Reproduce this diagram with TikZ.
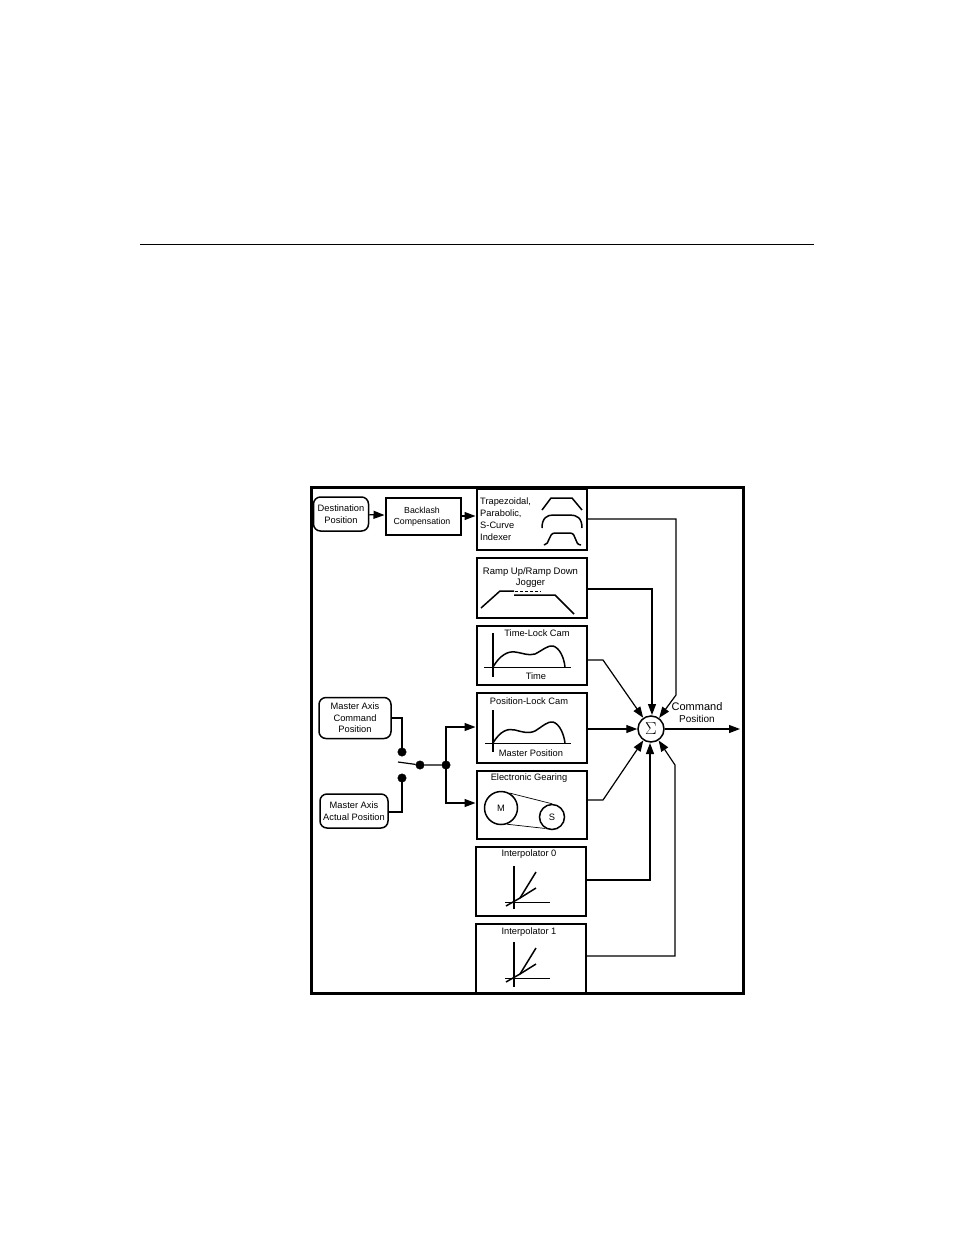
\documentclass[tikz,border=0pt]{standalone}
\usepackage{fontspec}
\setmainfont{Liberation Sans}
\usetikzlibrary{arrows.meta,shapes.geometric}
\tikzset{
  frame/.style={draw=black,line width=2.6pt,inner sep=0pt},
  blockbox/.style={draw=black,line width=2pt,inner sep=0pt,anchor=north west,xshift=-0.5pt,yshift=0.5pt},
  roundbox/.style={draw=black,line width=1.5pt,rounded corners=7pt,inner sep=0pt,align=center,font=\fsz},
  label/.style={inner sep=0pt,align=center,font=\fsz},
  conn/.style={draw=black,line width=1.2pt,-{Triangle[length=11pt,width=8pt]}},
  wire/.style={draw=black,line width=1.2pt},
  graphline/.style={draw=black,line width=1.5pt},
  dot/.style={circle,fill=black,draw=black,inner sep=0pt,minimum size=8.5pt},
}
\newcommand{\fsz}{\fontsize{9.3}{11.5}\selectfont}
\begin{document}
\begin{tikzpicture}[x=1pt,y=-1pt]
\useasboundingbox (0,0) rectangle (954,1235);
\fill[white] (0,0) rectangle (954,1235);
% page rule
\coordinate (ruleL) at (140,244);
\coordinate (ruleR) at (814,244);
\draw[line width=0.8pt] (ruleL) -- (ruleR);
% outer frame
\node[frame,minimum width=432pt,minimum height=506pt,anchor=north west] (outer) at (310,486) {};
% input boxes
\node[roundbox,minimum width=55pt,minimum height=34pt] (dest) at (341,514) {Destination\\Position};
\node[blockbox,minimum width=75pt,minimum height=37pt,align=center] (back) at (385,497) {};
\node[label,font=\fontsize{8.8}{11.5}\selectfont] (backt) at (422,516.5) {Backlash\\Compensation};
\node[blockbox,minimum width=110pt,minimum height=61pt] (trap) at (476,488) {};
\node[blockbox,minimum width=110pt,minimum height=60pt] (ramp) at (476,557) {};
\node[blockbox,minimum width=110pt,minimum height=59pt] (tcam) at (476,625) {};
\node[blockbox,minimum width=110pt,minimum height=70pt] (pcam) at (476,692) {};
\node[blockbox,minimum width=110pt,minimum height=68pt] (gear) at (476,770) {};
\node[blockbox,minimum width=110pt,minimum height=69pt] (int0) at (475,846) {};
\node[blockbox,minimum width=110pt,minimum height=70pt] (int1) at (475,923) {};
\node[roundbox,minimum width=72pt,minimum height=41pt] (mcmd) at (355,718) {Master Axis\\Command\\Position};
\node[roundbox,minimum width=68pt,minimum height=34pt] (mact) at (354,811) {Master Axis\\Actual Position};
% texts in blocks
\node[label,align=left,anchor=north west,font=\fontsize{9.3}{11.9}\selectfont] (trapt) at (480,497.5) {Trapezoidal,\\Parabolic,\\S-Curve\\Indexer};
\node[label,font=\fontsize{9.5}{11.5}\selectfont] (rampt) at (530.5,577.5) {Ramp Up/Ramp Down\\Jogger};
\node[label] (tcamt) at (537,633.5) {Time-Lock Cam};
\node[label] (tcamx) at (536,676) {Time};
\node[label] (pcamt) at (529,701.5) {Position-Lock Cam};
\node[label] (pcamx) at (531,753) {Master Position};
\node[label] (geart) at (529,778) {Electronic Gearing};
\node[label] (int0t) at (529,854.5) {Interpolator 0};
\node[label] (int1t) at (529,932) {Interpolator 1};
% summer
\node[circle,draw=black,line width=1.5pt,minimum size=26pt,inner sep=0pt,font=\LARGE] (sum) at (651,729) {$\Sigma$};
\node[label,font=\fontsize{11}{13}\selectfont] (cmdpos) at (697,712.5) {Command\\[-1pt]{\fontsize{10}{12}\selectfont Position}};
\coordinate (out) at (740,729);
% top chain
\draw[conn] (dest) -- (back);
\draw[conn] (back.east) -- (trap.west |- back.east);
% sum connectors
\coordinate (a1) at (676,519); \coordinate (a2) at (676,695);
\draw[conn] (trap.east |- a1) -- (a1) -- (a2) -- (sum);
\coordinate (b1) at (652,589);
\coordinate (b2) at (652,715);
\draw[conn] (ramp.east |- b1) -- (b1) -- (b2);
\coordinate (c1) at (603,660);
\draw[conn] (tcam.east |- c1) -- (c1) -- (sum);
\draw[conn] (pcam.east |- sum) -- (sum);
\coordinate (d1) at (603,800);
\draw[conn] (gear.east |- d1) -- (d1) -- (sum);
\coordinate (e1) at (650,880);
\coordinate (e2) at (650,743);
\draw[conn] (int0.east |- e1) -- (e1) -- (e2);
\coordinate (f1) at (675,956); \coordinate (f2) at (675,765);
\draw[conn] (int1.east |- f1) -- (f1) -- (f2) -- (sum);
\draw[conn] (sum) -- (out);
% switch
\node[dot] (sw1) at (402,752) {};
\node[dot] (sw2) at (402,778) {};
\node[dot] (sw3) at (420,765) {};
\node[dot] (sw4) at (446,765) {};
\coordinate (swfree) at (398,762);
\coordinate (g1) at (402,718);
\coordinate (g2) at (402,812);
\draw[wire] (mcmd.east |- g1) -- (g1) -- (sw1);
\draw[wire,line width=1.6pt] (mact.east |- g2) -- (g2) -- (sw2);
\draw[wire] (swfree) -- (sw3) -- (sw4);
\coordinate (h1) at (446,727);
\coordinate (h2) at (446,803);
\draw[conn] (sw4) -- (h1) -- (pcam.west |- h1);
\draw[conn] (sw4) -- (h2) -- (gear.west |- h2);
% trapezoid, parabolic, s-curve sketches
\draw[graphline] (542,510) -- (551,498) -- (572,498) -- (582,510);
\draw[graphline] (542,528) .. controls (542,518) and (547,515) .. (553,515) -- (570,515) .. controls (577,515) and (582,518) .. (582,528);
\draw[graphline] (544,545) .. controls (550,545) and (548,533) .. (555,533) -- (570,533) .. controls (577,533) and (574,545) .. (581,545);
% ramp
\draw[graphline] (481,608) -- (500,591) -- (514,591);
\draw[graphline,line width=1pt,dash pattern=on 3pt off 2pt] (515,591) -- (541,591);
\draw[graphline] (514,595) -- (555,595) -- (574,614);
% time-lock cam
\draw[graphline] (493,633) -- (493,677);
\draw[graphline,line width=1pt] (484,667) -- (571,667);
\draw[graphline] (493,667) .. controls (500,655) and (508,651) .. (515,652) .. controls (523,653) and (528,656) .. (535,654) .. controls (543,650) and (548,645) .. (553,646) .. controls (560,648) and (564,658) .. (565,667);
% position-lock cam
\draw[graphline] (493,710) -- (493,752);
\draw[graphline,line width=1pt] (485,743) -- (571,743);
\draw[graphline] (493,743) .. controls (500,731) and (508,728) .. (515,730) .. controls (523,732) and (528,734) .. (535,731) .. controls (543,726) and (548,721) .. (553,722) .. controls (560,724) and (564,735) .. (565,743);
% gearing
\node[circle,draw=black,line width=1.5pt,minimum size=33pt,inner sep=0pt,font=\fsz] (mot) at (501,808) {M};
\node[circle,draw=black,line width=1.5pt,minimum size=25pt,inner sep=0pt,font=\fsz] (sla) at (552,817) {S};
\draw[line width=0.7pt] (mot.60) -- (sla.90);
\draw[line width=0.7pt] (mot.-70) -- (sla.-120);
% interpolators
\draw[graphline] (514,866) -- (514,909);
\draw[graphline,line width=1pt] (505,902) -- (550,902);
\draw[graphline] (506,906) -- (520,898) -- (536,872);
\draw[graphline] (520,898) -- (536,888);
\draw[graphline] (514,942) -- (514,987);
\draw[graphline,line width=1pt] (505,978) -- (550,978);
\draw[graphline] (506,982) -- (520,974) -- (536,948);
\draw[graphline] (520,974) -- (536,964);
\end{tikzpicture}
\end{document}
